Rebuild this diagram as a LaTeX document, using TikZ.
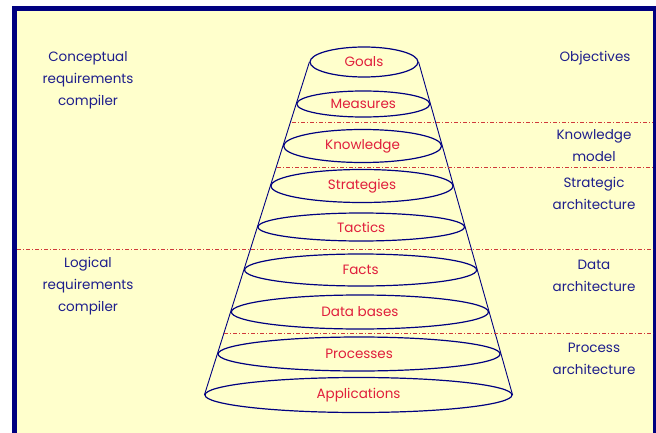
\documentclass[tikz,border=0pt]{standalone}
\usepackage{fontspec}
\setmainfont{Poppins}
\usetikzlibrary{shapes.geometric}
\definecolor{cream}{HTML}{FFFFCC}
\definecolor{navy}{HTML}{000080}
\definecolor{labblue}{HTML}{1E1E8C}
\definecolor{labred}{HTML}{E01E3C}
\definecolor{dashred}{HTML}{D03A3A}
\tikzset{
  layer/.style={ellipse, draw=navy, line width=1.2pt, inner sep=0pt,
    text=labred, font=\fontsize{13.5}{15}\selectfont},
  side/.style={text=labblue, align=center, font=\fontsize{13.5}{22}\selectfont, inner sep=0pt},
  cone/.style={draw=navy, line width=0.9pt},
  divider/.style={draw=dashred, line width=0.8pt, dash pattern=on 4pt off 2pt on 1pt off 2pt}
}
\begin{document}
\begin{tikzpicture}[x=1pt,y=-1pt]
\useasboundingbox (0,0) rectangle (656,433);
\fill[white] (0,0) rectangle (656,433);
\fill[cream] (17,11) rectangle (653,433);
\fill[navy] (12,6) rectangle (17,433);
\fill[navy] (12,6) rectangle (656,11);
\fill[navy] (653,6) rectangle (656,433);

\node[layer, minimum width=108pt, minimum height=30pt] (goals) at (364,62) {Goals};
\node[layer, minimum width=133pt, minimum height=26pt] (measures) at (363.3,104) {Measures};
\node[layer, minimum width=158pt, minimum height=33pt] (knowledge) at (362.6,146) {Knowledge};
\node[layer, minimum width=182pt, minimum height=33pt] (strategies) at (362,186) {Strategies};
\node[layer, minimum width=206.5pt, minimum height=28pt] (tactics) at (361.2,227) {Tactics};
\node[layer, minimum width=232pt, minimum height=32pt] (facts) at (360.6,270) {Facts};
\node[layer, minimum width=257pt, minimum height=34pt] (databases) at (359.9,312) {Data bases};
\node[layer, minimum width=282pt, minimum height=34pt] (processes) at (359.1,354) {Processes};
\node[layer, minimum width=307pt, minimum height=35pt] (apps) at (358.5,395) {Applications};

\draw[cone] (goals.west) -- (apps.west);
\draw[cone] (goals.east) -- (apps.east);

\coordinate (d1a) at (292,122); \coordinate (d1b) at (653,122);
\coordinate (d2a) at (277,167); \coordinate (d2b) at (653,167);
\coordinate (d3a) at (17,249);  \coordinate (d3b) at (653,249);
\coordinate (d4a) at (224,333); \coordinate (d4b) at (653,333);
\draw[divider] (d1a) -- (d1b);
\draw[divider] (d2a) -- (d2b);
\draw[divider] (d3a) -- (d3b);
\draw[divider] (d4a) -- (d4b);

\node[side] (conc) at (88,80) {Conceptual\\requirements\\compiler};
\node[side] (logi) at (88,286) {Logical\\requirements\\compiler};
\node[side] (obj) at (595,58) {Objectives};
\node[side] (km) at (594,146) {Knowledge\\model};
\node[side] (sa) at (594,193) {Strategic\\architecture};
\node[side] (da) at (594,276) {Data\\architecture};
\node[side] (pa) at (594,359) {Process\\architecture};
\end{tikzpicture}
\end{document}
